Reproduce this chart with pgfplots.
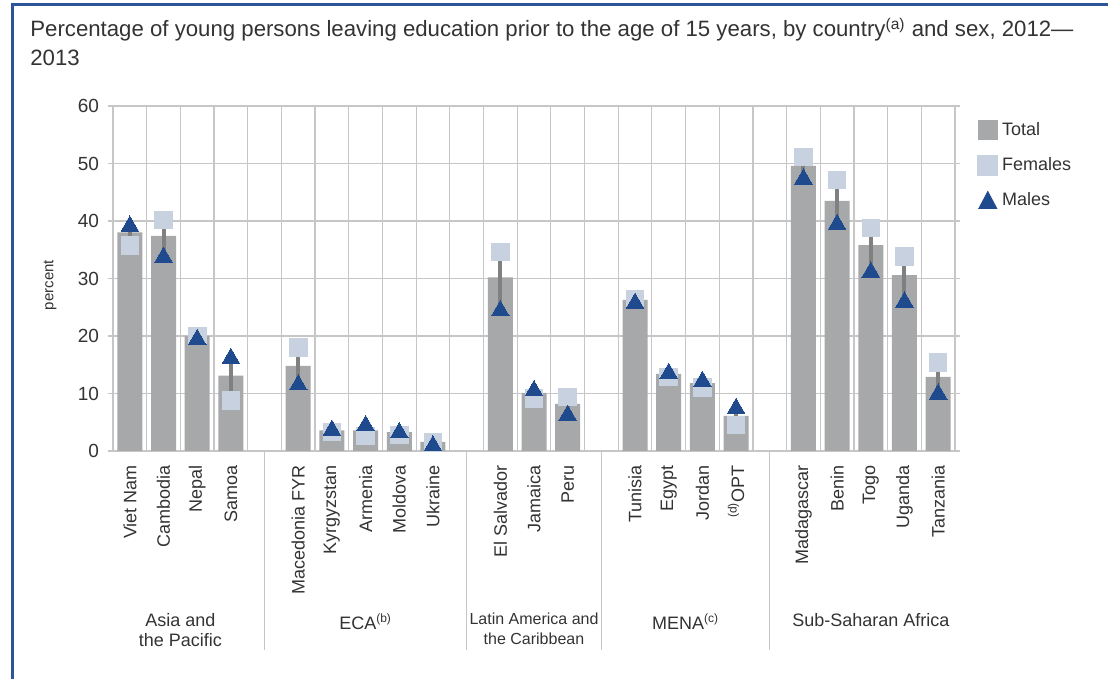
\documentclass[border=0pt]{standalone}
\usepackage{fontspec}
\setmainfont{Liberation Sans}
\usepackage{pgfplots}
\usepackage{pgfplotstable}
\pgfplotsset{compat=1.18}

\definecolor{totgray}{HTML}{A7A8AA}
\definecolor{femblue}{HTML}{C7D1E0}
\definecolor{maleblue}{HTML}{1F4B8E}
\definecolor{rangegray}{HTML}{808080}
\definecolor{gridgray}{HTML}{C6C6C6}
\definecolor{frameblue}{HTML}{2B5597}
\definecolor{txt}{HTML}{333333}

% slot positions: gaps between regions at 4, 10, 14, 19
\pgfplotstableread{
x  total female male
0  38.0  35.7  39.1
1  37.4  40.2  33.7
2  20.0  20.0  19.4
3  13.1  8.8   16.1
5  14.8  18.0  11.5
6  3.6   3.3   3.6
7  3.6   2.6   4.4
8  3.3   2.8   3.2
9  1.6   1.5   0.9
11 30.2  34.6  24.4
12 10.1  9.1   10.5
13 8.2   9.4   6.2
15 26.3  26.3  25.7
16 13.4  12.9  13.5
17 11.8  11.0  12.1
18 6.1   4.5   7.4
20 49.6  51.1  47.3
21 43.5  47.1  39.4
22 35.8  38.8  31.1
23 30.6  33.8  25.9
24 12.9  15.4  9.9
}\data

\begin{document}
\begin{tikzpicture}
\path[use as bounding box] (0pt,0pt) rectangle (554pt,339.5pt);
\draw[frameblue, line width=1.5pt] (6pt,0pt) -- (6pt,337pt) -- (554pt,337pt);
\node[anchor=base west, inner sep=0pt, text=txt, font=\fontsize{11.1}{13}\selectfont]
  at (15pt,321pt) {Percentage of young persons leaving education prior to the age of 15 years, by country\textsuperscript{(a)} and sex, 2012—};
\node[anchor=base west, inner sep=0pt, text=txt, font=\fontsize{11.1}{13}\selectfont]
  at (15pt,306.5pt) {2013};
\node[rotate=90, text=txt, font=\fontsize{7.5}{9}\selectfont] at (25pt,197pt) {percent};

\begin{axis}[
    at={(56.5pt,114pt)}, anchor=south west,
    scale only axis, width=421pt, height=172.5pt,
    xmin=-0.5, xmax=24.5, ymin=0, ymax=60,
    ytick={0,10,...,60},
    xtick={0,1,2,3,5,6,7,8,9,11,12,13,15,16,17,18,20,21,22,23,24},
    xticklabels={Viet Nam, Cambodia, Nepal, Samoa,
        Macedonia FYR, Kyrgyzstan, Armenia, Moldova, Ukraine,
        El Salvador, Jamaica, Peru,
        Tunisia, Egypt, Jordan, \textsuperscript{(d)}OPT,
        Madagascar, Benin, Togo, Uganda, Tanzania},
    minor xtick={-0.5,0.5,...,24.5},
    xminorgrids=true, ymajorgrids=true,
    grid style={gridgray, line width=0.6pt},
    minor grid style={gridgray, line width=0.6pt},
    axis line style={gridgray, line width=0.6pt},
    tick align=outside,
    major tick length=2.5pt, minor tick length=0pt,
    x tick style={draw=none},
    y tick style={gridgray, line width=0.6pt},
    /pgf/number format/assume math mode=true,
    xticklabel style={rotate=90, anchor=east, text=txt, font=\fontsize{9}{10}\selectfont},
    yticklabel style={text=txt, font=\fontsize{9.5}{10}\selectfont, xshift=-1pt},
    xticklabel shift=1pt,
    clip=false,
    legend cell align=left,
    legend style={draw=none, fill=none, at={(axis description cs:1,1)}, anchor=north west,
        xshift=8pt, yshift=-4pt, font=\fontsize{9}{10}\selectfont, text=txt,
        row sep=5.5pt},
]
\addplot[ybar, bar width=12.5pt, fill=totgray, draw=none,
    legend image code/.code={\fill[totgray] (0pt,-5pt) rectangle (10pt,5pt);}]
    table[x=x, y=total] {\data};
\addlegendentry{Total}
\addplot[forget plot, draw=none, mark=none,
    error bars/.cd, y dir=both, y explicit,
    error bar style={rangegray, line width=2pt}, error mark=none]
    table[x=x, y=female,
      y error plus expr={max(\thisrow{male}-\thisrow{female},0)},
      y error minus expr={max(\thisrow{female}-\thisrow{male},0)}] {\data};
\addplot[only marks, color=femblue, mark=square*, mark size=4.4pt,
    mark options={fill=femblue, draw=femblue, line width=0pt},
    legend image code/.code={\fill[femblue] (0pt,-5pt) rectangle (10pt,5pt);}]
    table[x=x, y=female] {\data};
\addlegendentry{Females}
\addplot[only marks, color=maleblue, mark=triangle*, mark size=5.1pt,
    mark options={fill=maleblue, draw=maleblue, line width=0pt},
    legend image code/.code={\fill[maleblue] (0.5pt,-4pt) -- (9.5pt,-4pt) -- (5pt,4.5pt) -- cycle;}]
    table[x=x, y=male] {\data};
\addlegendentry{Males}

\pgfplotsinvokeforeach{4,10,14,19}{
  \draw[gridgray, line width=0.6pt] (axis cs:#1,0) -- ++(0pt,-99.5pt);
}
\node[anchor=north, align=center, inner sep=0pt, text=txt, yshift=-81pt,
  font=\fontsize{9}{10}\selectfont] at (axis cs:1.5,0) {Asia and\\the Pacific};
\node[anchor=north, align=center, inner sep=0pt, text=txt, yshift=-81pt,
  font=\fontsize{9}{10}\selectfont] at (axis cs:7,0) {ECA\textsuperscript{(b)}};
\node[anchor=north, align=center, inner sep=0pt, text=txt, yshift=-81pt,
  font=\fontsize{8}{10}\selectfont] at (axis cs:12,0) {Latin America and\\the Caribbean};
\node[anchor=north, align=center, inner sep=0pt, text=txt, yshift=-81pt,
  font=\fontsize{9}{10}\selectfont] at (axis cs:16.5,0) {MENA\textsuperscript{(c)}};
\node[anchor=north, align=center, inner sep=0pt, text=txt, yshift=-81pt,
  font=\fontsize{9}{10}\selectfont] at (axis cs:22,0) {Sub-Saharan Africa};
\end{axis}
\end{tikzpicture}
\end{document}
